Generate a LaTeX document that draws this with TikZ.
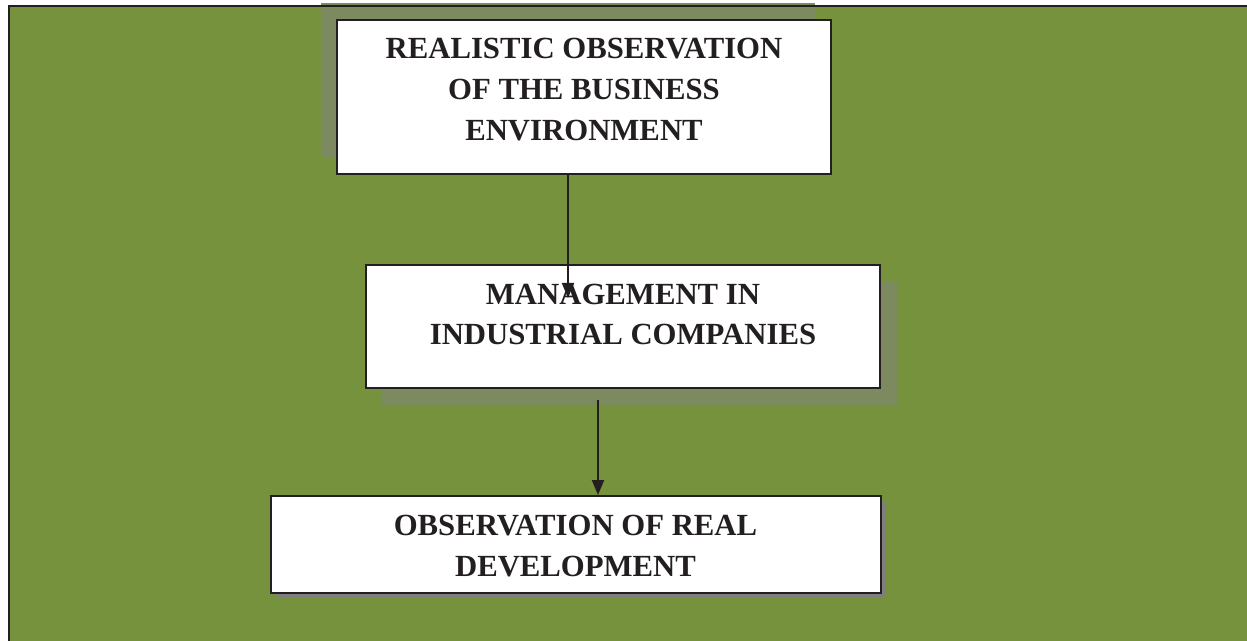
\documentclass[tikz,border=0pt]{standalone}
\usepackage{fontspec}
\setmainfont{Liberation Serif}
\usetikzlibrary{arrows.meta, positioning}

\begin{document}
\begin{tikzpicture}[x=0.02cm, y=-0.02cm,
  box/.style={draw=ink, line width=1.1pt, fill=white, inner sep=0pt},
  boxtext/.style={align=center, text=ink, inner sep=0pt, font=\fontsize{17.5}{23.2}\selectfont\bfseries},
  flow/.style={draw=ink, line width=1.1pt, -{Triangle[length=0.3cm, width=0.24cm]}}]
% --- CORES ---
\definecolor{olive}{HTML}{76923C}
\definecolor{oliveshadow}{HTML}{7D895E}
\definecolor{greyshadow}{HTML}{7F7F7F}
\definecolor{ink}{HTML}{231F20}
\useasboundingbox (0,0) rectangle (1247,641);

% LAYER 1: Fundo verde e sombras
\fill[olive] (9,6) rectangle (1247,641);
\fill[oliveshadow] (321,3) rectangle (815,158); % sombra caixa 1
\fill[oliveshadow] (382,281) rectangle (897,405); % sombra caixa 2
\fill[greyshadow] (276,501) rectangle (886,598); % sombra caixa 3
\draw[ink, line width=1.1pt] (9,641) -- (9,6) -- (1247,6);

% LAYER 2: Caixas
\node[box, minimum width=9.88cm, minimum height=3.08cm] (realistic) at (584,97) {};
\node[box, minimum width=10.28cm, minimum height=2.46cm] (management) at (623,326.5) {};
\node[box, minimum width=12.2cm, minimum height=1.94cm] (development) at (576,544.5) {};

\node[boxtext] (realistic-txt) at (584,89.5) {REALISTIC OBSERVATION\\OF THE BUSINESS\\ENVIRONMENT};
\node[boxtext] (management-txt) at (623,314.5) {MANAGEMENT IN\\INDUSTRIAL COMPANIES};
\node[boxtext] (development-txt) at (575.5,546) {OBSERVATION OF REAL\\DEVELOPMENT};

% LAYER 3: Setas
\coordinate (tip1) at (568,298);
\coordinate (tail2) at (598,400);
\draw[flow] (realistic.south -| tip1) -- (tip1);
\draw[flow] (tail2) -- (tail2 |- development.north);
\end{tikzpicture}
\end{document}
